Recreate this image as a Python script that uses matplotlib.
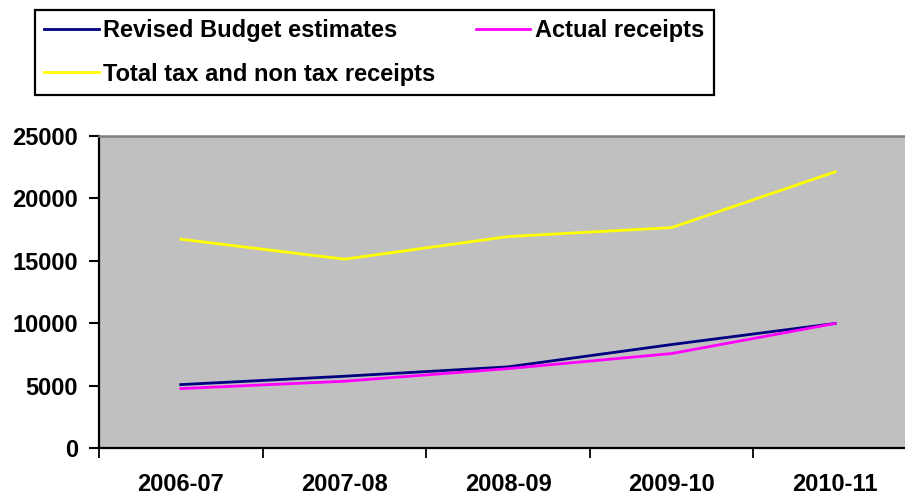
import matplotlib.pyplot as plt
from matplotlib.ticker import FixedLocator

years = ["2006-07", "2007-08", "2008-09", "2009-10", "2010-11"]
revised_budget = [5080, 5750, 6500, 8290, 9980]
actual_receipts = [4760, 5350, 6360, 7570, 9980]
total_receipts = [16730, 15130, 16940, 17660, 22130]

plt.rcParams["font.family"] = "Liberation Sans"
plt.rcParams["font.weight"] = "bold"
plt.rcParams["font.size"] = 17

fig = plt.figure(figsize=(9.05, 4.95), dpi=100)
ax = fig.add_axes([99 / 905, 1 - 448 / 495, 818 / 905, 312 / 495])
ax.set_facecolor("#C0C0C0")

x = list(range(len(years)))
l1, = ax.plot(x, revised_budget, color="#000080", lw=2, label="Revised Budget estimates")
l2, = ax.plot(x, actual_receipts, color="#FF00FF", lw=2, label="Actual receipts")
l3, = ax.plot(x, total_receipts, color="#FFFF00", lw=2, label="Total tax and non tax receipts")

ax.set_xlim(-0.5, len(years) - 0.5)
ax.set_ylim(0, 25000)
ax.set_yticks(range(0, 25001, 5000))
ax.set_xticks(x)
ax.set_xticklabels(years, fontweight="bold")
ax.xaxis.set_minor_locator(FixedLocator([i - 0.5 for i in range(len(years) + 1)]))
ax.tick_params(axis="x", which="major", length=0, pad=18)
ax.tick_params(axis="x", which="minor", length=7, width=1.3, color="black")
ax.tick_params(axis="y", length=7, width=1.5, pad=8)

for side in ["left", "bottom"]:
    ax.spines[side].set_linewidth(1.6)
    ax.spines[side].set_color("black")
ax.spines["top"].set_color("#808080")
ax.spines["top"].set_linewidth(1.8)
ax.spines["right"].set_visible(False)

leg = fig.legend(
    handles=[l1, l3, l2],
    ncol=2,
    loc="upper left",
    bbox_to_anchor=(35 / 905, 1 - 10 / 495),
    fancybox=False,
    frameon=True,
    edgecolor="black",
    handlelength=2.3,
    handletextpad=0.2,
    columnspacing=1.7,
    labelspacing=0.85,
    borderpad=0.4,
    borderaxespad=0,
    prop={"weight": "bold", "size": 17},
)
leg.get_frame().set_linewidth(1.6)
leg.get_frame().set_alpha(1)

fig.savefig("out.png", dpi=100)
